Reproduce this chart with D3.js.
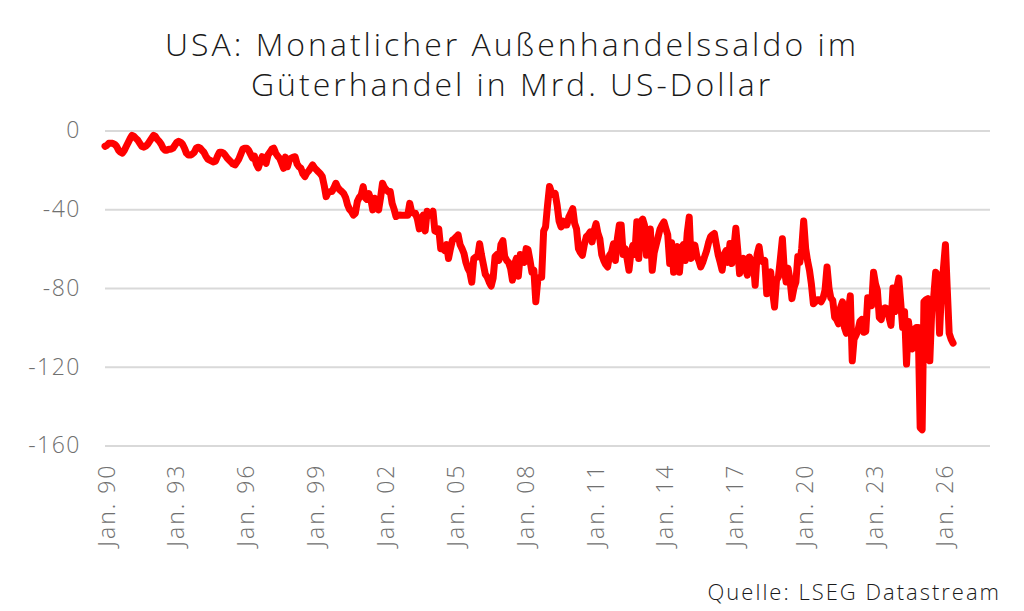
<!DOCTYPE html>
<html>
<head>
<meta charset="utf-8">
<script src="https://cdn.jsdelivr.net/npm/d3@7/dist/d3.min.js"></script>
<style>
  html, body { margin: 0; padding: 0; background: #fff; }
  svg { display: block; font-family: "Open Sans", "Noto Sans", sans-serif; }
</style>
</head>
<body>
<svg id="chart" width="1024" height="611"></svg>
<script>
// USA monthly goods trade balance, bn USD, Jan 1990 onwards
const START_YEAR = 1990;
const balance = [
  -8, -7.5, -6.5, -6.5, -6.5, -7, -8, -10, -11, -11.5, -10, -8,              // 1990
  -6, -4, -2.5, -3, -4, -5, -6.5, -8, -8.5, -8, -7, -5.5,                    // 1991
  -4, -2.5, -3, -4.5, -5.5, -7, -9, -10, -10, -9.5, -9.5, -9,                // 1992
  -7.5, -6, -5.5, -6, -7, -9, -11.5, -12.5, -12.5, -12, -11, -9,             // 1993
  -8.5, -9, -10, -11, -13, -14.5, -15, -15.5, -16, -15.5, -13, -11,          // 1994
  -11, -11.5, -12.5, -14, -15, -16, -17, -17.5, -16, -14.5, -12, -9.5,       // 1995
  -9, -9, -10, -12, -14, -13, -17, -19, -16, -13.3, -15, -16.7,              // 1996
  -12.4, -11, -9.5, -9, -11.5, -13, -14.1, -16.5, -19.2, -13.5, -18.4, -15,  // 1997
  -14, -13.5, -13.3, -17, -18.4, -19.2, -22, -23.4, -21.5, -20.5, -19, -17.5,// 1998
  -19, -20, -21, -22, -23.4, -28, -33.6, -31.5, -31, -31, -29, -26.8,        // 1999
  -29, -30.2, -31, -32, -34, -37.8, -40, -41.2, -43, -42, -36.1, -34,        // 2000
  -32.8, -28.5, -34, -35, -32, -35, -40.3, -34.4, -37, -40.3, -34, -26.8,    // 2001
  -29, -30.2, -31, -31, -37, -40, -43.7, -43, -42.9, -43, -43, -43,          // 2002
  -43, -37, -41, -42, -42, -45, -50, -45, -43, -51, -41, -43,                // 2003
  -43, -41, -51, -51.5, -50, -60, -60, -61, -58, -65, -60, -55.7,            // 2004
  -55, -54, -53, -58, -60, -62.5, -67, -70, -72, -77, -65, -64.3,            // 2005
  -64.3, -57.5, -63, -68, -73, -74.5, -77, -79, -75, -64, -63, -66,          // 2006
  -58, -56, -64, -66, -67, -70, -76, -68, -65, -74, -63, -65,                // 2007
  -67, -60, -60.5, -66, -72, -71, -87, -76, -74.5, -74.5, -51, -49,          // 2008
  -38, -28.4, -31, -32.6, -32, -38, -46, -49, -46, -48, -48, -44,            // 2009
  -42, -39.7, -47, -50, -60, -62, -63.4, -58, -54, -53, -51.5, -56.6,        // 2010
  -51, -47.3, -52, -55, -63, -66, -68, -69.3, -63.4, -62, -57.5, -66,        // 2011
  -55, -48, -48, -63, -60, -65, -71, -62, -58.3, -63, -46.4, -65,            // 2012
  -46.4, -45, -48, -63.4, -55, -50, -71, -62, -58, -54, -50, -48,            // 2013
  -46.4, -50, -53, -67.6, -57, -72, -64, -59, -72, -60, -58, -66,            // 2014
  -52, -44, -65, -60, -58.3, -64, -66, -69.3, -67, -64, -61, -57,            // 2015
  -54, -53, -52.3, -58, -63.3, -67, -71, -63, -61, -67, -57.4, -67.6,        // 2016
  -60, -49.7, -60, -72.7, -67, -65, -70, -73.5, -64.2, -71.8, -65.9, -78.6,  // 2017
  -63, -59, -66, -66.7, -66, -82.9, -76, -71.8, -82, -89.7, -76, -74.4,      // 2018
  -65, -55, -70, -77, -70, -76, -85.4, -80, -77, -64, -67, -60,              // 2019
  -46, -60, -66, -71, -78, -88, -87, -86, -86, -87, -85, -81,                // 2020
  -69.3, -80, -85, -86.3, -94.8, -96, -98.2, -90, -87, -100, -103, -92,      // 2021
  -84, -117, -106, -104, -101.6, -97, -96, -102.5, -102, -85, -86, -89,      // 2022
  -72, -78, -81, -95, -96, -90.6, -90, -90.6, -95, -99, -80, -92,            // 2023
  -80, -75, -87, -100, -92, -118.6, -97, -105, -111, -101, -100, -100,       // 2024
  -151, -152, -87, -86, -85.4, -117, -92, -84.6, -72, -73.5, -103, -81,      // 2025
  -70, -58, -80, -103, -106, -108                                            // 2026
];
const yTicks = [0, -40, -80, -120, -160];
const xTickYears = [1990, 1993, 1996, 1999, 2002, 2005, 2008, 2011, 2014, 2017, 2020, 2023, 2026];
const xTickLabels = ["Jan. 90", "Jan. 93", "Jan. 96", "Jan. 99", "Jan. 02", "Jan. 05", "Jan. 08",
                     "Jan. 11", "Jan. 14", "Jan. 17", "Jan. 20", "Jan. 23", "Jan. 26"];
const titleLines = ["USA: Monatlicher Außenhandelssaldo im", "Güterhandel in Mrd. US-Dollar"];
const source = "Quelle: LSEG Datastream";

const svg = d3.select("#chart");
const series = balance.map((v, i) => ({date: new Date(START_YEAR, i, 1), v}));

const x = d3.scaleTime([new Date(1990, 0, 1), new Date(2028, 0, 1)], [105, 990]);
const y = d3.scaleLinear([-160, 0], [445.5, 130.5]);

// title — reference face is a wide geometric sans, so open it up a little
svg.append("g").selectAll("text").data(titleLines).join("text")
  .attr("x", 512).attr("y", (d, i) => 56 + i * 40)
  .attr("text-anchor", "middle").attr("font-size", 32).attr("font-weight", 300)
  .attr("letter-spacing", 3).attr("fill", "#1a1a1a").text(d => d);

// gridlines + y labels
const yAxis = svg.append("g").attr("transform", "translate(105,0)")
  .call(d3.axisLeft(y).tickValues(yTicks).tickSize(-885).tickPadding(24).tickFormat(d => String(d)));
yAxis.select(".domain").remove();
yAxis.selectAll(".tick line").attr("stroke", "#d9d9d9").attr("stroke-width", 2);
yAxis.selectAll(".tick text").attr("font-size", 23).attr("fill", "#707070")
  .attr("font-family", "\"Open Sans\", sans-serif").attr("font-weight", 300)
  .attr("letter-spacing", 1.5);

// x labels, rotated
const xAxis = svg.append("g").attr("transform", "translate(0,445.5)")
  .call(d3.axisBottom(x).tickValues(xTickYears.map(yr => new Date(yr, 0, 1)))
    .tickSize(0).tickFormat((d, i) => xTickLabels[i]));
xAxis.select(".domain").remove();
xAxis.selectAll(".tick text")
  .attr("font-size", 23).attr("fill", "#707070")
  .attr("font-family", "\"Open Sans\", sans-serif").attr("font-weight", 300)
  .attr("letter-spacing", 2)
  .attr("text-anchor", "end").attr("dy", null)
  .attr("transform", "translate(0,18) rotate(-90)").attr("x", 0).attr("y", 0)
  .attr("dominant-baseline", "central");

// line
svg.append("path").datum(series)
  .attr("fill", "none").attr("stroke", "#ff0000").attr("stroke-width", 7)
  .attr("stroke-linejoin", "round").attr("stroke-linecap", "round")
  .attr("d", d3.line().x(d => x(d.date)).y(d => y(d.v)));

// source
svg.append("text").attr("x", 1001).attr("y", 600).attr("text-anchor", "end")
  .attr("font-size", 22).attr("font-weight", 300).attr("letter-spacing", 2)
  .attr("fill", "#1a1a1a").text(source);
</script>
</body>
</html>
